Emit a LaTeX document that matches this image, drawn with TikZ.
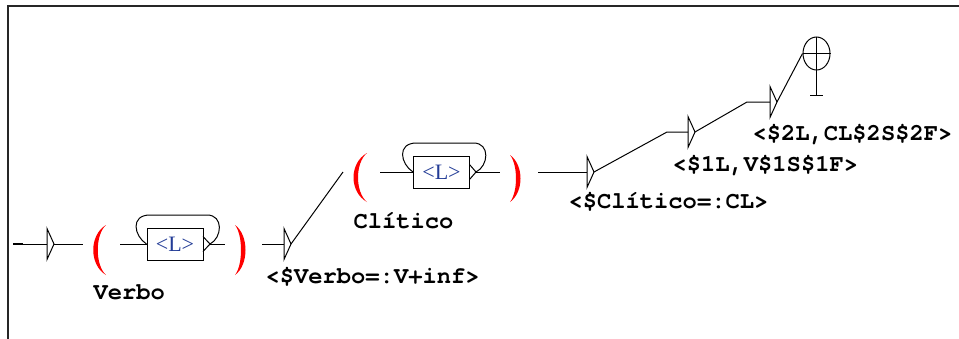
\documentclass[tikz,border=0pt]{standalone}
\usepackage{fontspec}
\newfontfamily\curfont{TeX Gyre Cursor}
\newfontfamily\serifL{Liberation Serif}
\usetikzlibrary{shapes.geometric}
\definecolor{lblue}{RGB}{35,60,150}
\definecolor{pred}{RGB}{255,0,0}
\begin{document}
\begin{tikzpicture}[x=1pt,y=-1pt,line width=1pt,
  lab/.style={font=\fontsize{23.8}{24}\selectfont\curfont\bfseries,anchor=base west,inner sep=0pt},
  lbox/.style={draw,minimum width=56pt,minimum height=32pt,inner sep=0pt,font=\fontsize{22}{22}\selectfont\serifL,text=lblue},
  fin/.style={draw,ellipse,minimum width=27pt,minimum height=33pt,inner sep=0pt},
  trig/.pic={\draw (0,-15.5) -- (7,0) -- (0,15.5) -- cycle;},
  par/.style={fill=pred,draw=none}]
\useasboundingbox (0,0) rectangle (959,338);
% frame
\draw[line width=2pt,black!85] (8,339) -- (8,6) -- (960,6);

% ---------- group 1 (Verbo) ----------
\coordinate (s0) at (13,244);
\coordinate (tri0) at (47,244);
\coordinate (t0) at (54,244);
\coordinate (a1) at (83,244);
\coordinate (a2) at (120,244);
\coordinate (box1o) at (210,244);
\coordinate (a3) at (225,244);
\coordinate (a4) at (262,244);
\coordinate (tri1) at (284,244);
\coordinate (t1) at (291,244);
\coordinate (a5) at (343,172);

\draw[line width=2.5pt] (s0) -- (23,244);
\draw (s0) -- (tri0);
\pic at (tri0) {trig};
\draw (t0) -- (a1);
\fill[par] (106,225) .. controls (89,235) and (89,265) .. (106,275) .. controls (95,265) and (95,235) .. cycle;
\node[lbox] (box1) at (175,244) {<L>};
\draw (a2) -- (box1.west);
\draw (203,236.5) -- (box1o) -- (203,251.5);
\draw (box1o) -- (a3);
\draw (box1o) .. controls (222,238) and (224,215) .. (207,215) -- (150,215) .. controls (130,215) and (134,236) .. (box1.west);
\fill[par] (235,225) .. controls (249,235) and (249,265) .. (235,275) .. controls (243,265) and (243,235) .. cycle;
\node[lab] (lv) at (93,299) {Verbo};
\draw (a4) -- (tri1);
\pic at (tri1) {trig};
\node[lab] (l1) at (265,283) {<\$Verbo=:V+inf>};
\draw (t1) -- (a5);

% ---------- group 2 (Clitico) ----------
\coordinate (b2) at (380,172);
\coordinate (box2o) at (476,172);
\coordinate (b3) at (500,172);
\coordinate (b4) at (538,172);
\coordinate (tri2) at (587,172);
\coordinate (t2) at (594,172);
\coordinate (c1) at (667,132);
\coordinate (tri3) at (688,132);
\coordinate (t3) at (695,132);
\coordinate (c2) at (747,102);
\coordinate (tri4) at (770,102);
\coordinate (t4) at (777,102);

\fill[par] (367,153) .. controls (349,163) and (349,192) .. (367,202) .. controls (355,192) and (355,163) .. cycle;
\node[lbox] (box2) at (441.5,172) {<L>};
\draw (b2) -- (box2.west);
\draw (469.5,164.5) -- (box2o) -- (469.5,179.5);
\draw (box2o) -- (b3);
\draw (box2o) .. controls (488.5,166) and (490.5,143) .. (473.5,143) -- (416.5,143) .. controls (396.5,143) and (400.5,164) .. (box2.west);
\fill[par] (510,155) .. controls (524,165) and (524,192) .. (510,202) .. controls (518,192) and (518,165) .. cycle;
\node[lab] (lc) at (353,228) {Clítico};

\draw (b4) -- (tri2);
\pic at (tri2) {trig};
\node[lab] (l2) at (568,208) {<\$Clítico=:CL>};
\draw (t2) -- (c1) -- (tri3);
\pic at (tri3) {trig};
\node[lab] (l3) at (672,171) {<\$1L,V\$1S\$1F>};
\draw (t3) -- (c2) -- (tri4);
\pic at (tri4) {trig};
\node[lab] (l4) at (752,140) {<\$2L,CL\$2S\$2F>};

% final state
\node[fin] (final) at (816.5,53.5) {};
\draw (t4) -- (final.west);
\draw (final.west) -- (final.east);
\draw (final.north) -- (816.5,95);
\draw (810,95) -- (823,95);
\end{tikzpicture}
\end{document}
